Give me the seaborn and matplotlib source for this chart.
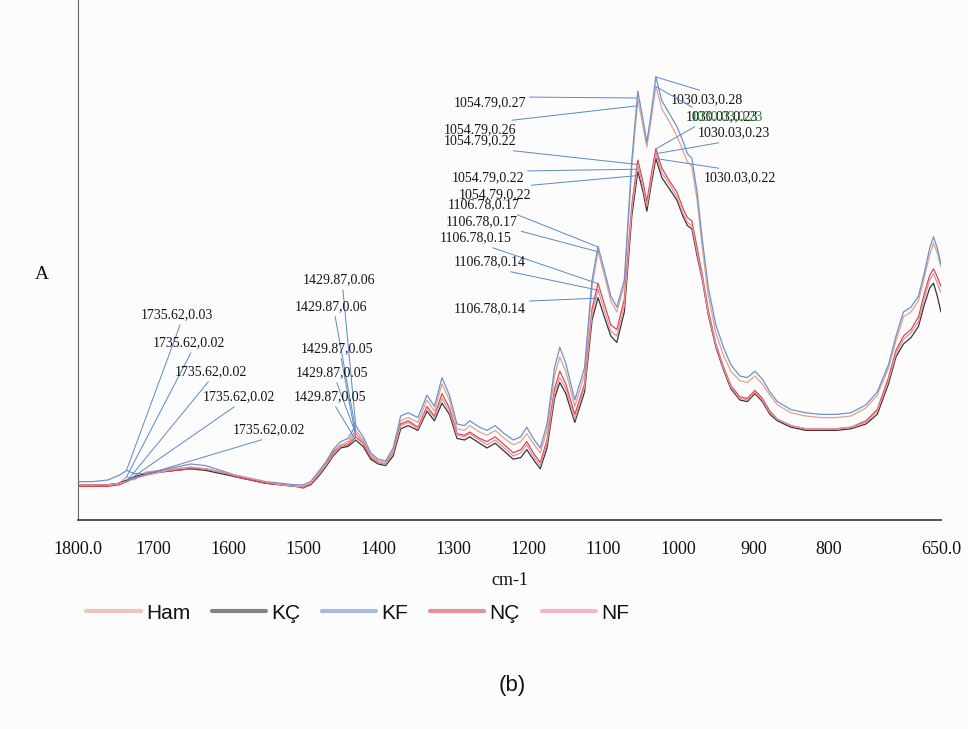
import numpy as np
import pandas as pd
import matplotlib
matplotlib.use("Agg")
import matplotlib.pyplot as plt
import seaborn as sns

# ---------------- data ----------------
wavenumber = [1800, 1780, 1760, 1745, 1735, 1725, 1710, 1690, 1670, 1650, 1630, 1610, 1590, 1570,
              1550, 1530, 1510, 1500, 1490, 1480, 1470, 1460, 1450, 1440, 1430, 1420, 1410, 1400,
              1390, 1380, 1370, 1360, 1347, 1335, 1325, 1315, 1305, 1295, 1285, 1278, 1265, 1255,
              1244, 1232, 1220, 1210, 1202, 1192, 1184, 1175, 1165, 1158, 1150, 1138, 1125, 1115,
              1107, 1098, 1090, 1082, 1072, 1062, 1054, 1047, 1042, 1036, 1030, 1022, 1012, 1002,
              994, 988, 982, 975, 968, 960, 950, 940, 930, 918, 908, 898, 888, 878, 868, 850, 830,
              810, 790, 770, 750, 735, 720, 710, 700, 690, 680, 672, 665, 660, 655, 650]

kf = [0.024, 0.024, 0.025, 0.028, 0.031, 0.029, 0.029, 0.031, 0.033, 0.035, 0.034, 0.031, 0.028, 0.026,
      0.024, 0.023, 0.022, 0.022, 0.024, 0.030, 0.036, 0.044, 0.049, 0.051, 0.059, 0.052, 0.042, 0.038,
      0.037, 0.045, 0.065, 0.067, 0.064, 0.078, 0.071, 0.089, 0.078, 0.060, 0.059, 0.062, 0.058, 0.056,
      0.059, 0.054, 0.050, 0.052, 0.058, 0.050, 0.045, 0.060, 0.095, 0.108, 0.098, 0.075, 0.095, 0.150,
      0.171, 0.155, 0.140, 0.133, 0.150, 0.225, 0.268, 0.250, 0.236, 0.255, 0.277, 0.262, 0.254, 0.246,
      0.237, 0.229, 0.226, 0.205, 0.175, 0.145, 0.122, 0.108, 0.097, 0.090, 0.089, 0.093, 0.088, 0.080,
      0.074, 0.069, 0.067, 0.066, 0.066, 0.067, 0.072, 0.080, 0.097, 0.115, 0.130, 0.133, 0.140, 0.155,
      0.170, 0.177, 0.170, 0.160]

ham = [0.021, 0.021, 0.022, 0.023, 0.027, 0.025, 0.030, 0.031, 0.032, 0.033, 0.032, 0.030, 0.027, 0.025,
       0.023, 0.022, 0.021, 0.020, 0.023, 0.029, 0.035, 0.043, 0.047, 0.049, 0.056, 0.050, 0.041, 0.037,
       0.036, 0.043, 0.062, 0.064, 0.061, 0.075, 0.068, 0.085, 0.075, 0.057, 0.056, 0.059, 0.055, 0.053,
       0.056, 0.051, 0.047, 0.049, 0.054, 0.047, 0.042, 0.056, 0.090, 0.102, 0.093, 0.071, 0.091, 0.146,
       0.168, 0.152, 0.137, 0.130, 0.147, 0.221, 0.263, 0.246, 0.233, 0.251, 0.271, 0.257, 0.249, 0.240,
       0.231, 0.224, 0.221, 0.200, 0.170, 0.140, 0.117, 0.103, 0.093, 0.087, 0.086, 0.090, 0.085, 0.078,
       0.072, 0.067, 0.065, 0.064, 0.064, 0.065, 0.070, 0.078, 0.095, 0.112, 0.127, 0.130, 0.137, 0.152,
       0.166, 0.173, 0.167, 0.158]

nc = [0.021, 0.021, 0.021, 0.022, 0.024, 0.026, 0.028, 0.030, 0.031, 0.032, 0.032, 0.030, 0.027, 0.025,
      0.023, 0.022, 0.021, 0.020, 0.022, 0.028, 0.034, 0.042, 0.046, 0.047, 0.052, 0.048, 0.039, 0.036,
      0.035, 0.042, 0.060, 0.062, 0.058, 0.071, 0.065, 0.079, 0.070, 0.054, 0.053, 0.055, 0.051, 0.049,
      0.052, 0.047, 0.042, 0.044, 0.049, 0.041, 0.036, 0.050, 0.082, 0.093, 0.085, 0.066, 0.085, 0.132,
      0.148, 0.134, 0.122, 0.119, 0.138, 0.197, 0.225, 0.211, 0.199, 0.216, 0.232, 0.220, 0.212, 0.205,
      0.195, 0.189, 0.187, 0.170, 0.153, 0.131, 0.110, 0.096, 0.084, 0.077, 0.076, 0.081, 0.076, 0.068,
      0.063, 0.059, 0.057, 0.057, 0.057, 0.058, 0.062, 0.069, 0.089, 0.106, 0.115, 0.119, 0.127, 0.142,
      0.153, 0.157, 0.152, 0.146]

nf = [0.022, 0.022, 0.022, 0.023, 0.024, 0.026, 0.028, 0.030, 0.032, 0.033, 0.032, 0.030, 0.028, 0.026,
      0.024, 0.022, 0.021, 0.021, 0.023, 0.028, 0.034, 0.041, 0.046, 0.048, 0.054, 0.049, 0.040, 0.036,
      0.035, 0.042, 0.059, 0.061, 0.057, 0.070, 0.064, 0.076, 0.068, 0.053, 0.052, 0.054, 0.050, 0.047,
      0.050, 0.045, 0.040, 0.042, 0.047, 0.039, 0.034, 0.048, 0.079, 0.089, 0.082, 0.063, 0.083, 0.129,
      0.144, 0.130, 0.118, 0.115, 0.134, 0.194, 0.222, 0.208, 0.196, 0.213, 0.229, 0.217, 0.210, 0.202,
      0.192, 0.186, 0.184, 0.167, 0.151, 0.129, 0.109, 0.095, 0.083, 0.076, 0.075, 0.080, 0.075, 0.067,
      0.063, 0.059, 0.057, 0.057, 0.057, 0.058, 0.061, 0.068, 0.087, 0.104, 0.113, 0.117, 0.124, 0.139,
      0.150, 0.154, 0.148, 0.142]

kc = [0.022, 0.022, 0.022, 0.023, 0.025, 0.027, 0.029, 0.030, 0.031, 0.032, 0.031, 0.029, 0.027, 0.025,
      0.023, 0.022, 0.021, 0.021, 0.022, 0.027, 0.033, 0.040, 0.045, 0.046, 0.050, 0.046, 0.038, 0.035,
      0.034, 0.040, 0.057, 0.059, 0.056, 0.068, 0.062, 0.073, 0.066, 0.051, 0.050, 0.052, 0.048, 0.045,
      0.048, 0.043, 0.038, 0.039, 0.044, 0.037, 0.032, 0.045, 0.076, 0.086, 0.079, 0.061, 0.080, 0.125,
      0.139, 0.126, 0.115, 0.111, 0.130, 0.190, 0.218, 0.205, 0.193, 0.210, 0.226, 0.214, 0.207, 0.200,
      0.190, 0.184, 0.182, 0.165, 0.150, 0.128, 0.108, 0.094, 0.082, 0.075, 0.074, 0.079, 0.074, 0.066,
      0.062, 0.058, 0.056, 0.056, 0.056, 0.057, 0.060, 0.066, 0.085, 0.102, 0.110, 0.114, 0.121, 0.135,
      0.145, 0.148, 0.140, 0.130]

series_names = ["Ham", "KÇ", "KF", "NÇ", "NF"]
series_values = {"Ham": ham, "KÇ": kc, "KF": kf, "NÇ": nc, "NF": nf}

xtick_values = [1800, 1700, 1600, 1500, 1400, 1300, 1200, 1100, 1000, 900, 800, 700, 650]
xtick_labels = ["1800.0", "1700", "1600", "1500", "1400", "1300", "1200", "1100", "1000",
                "900", "800", "", "650.0"]
ytick_values = [0.05, 0.10, 0.15, 0.20, 0.25, 0.30]

# peak labels: (text, series, wavenumber)
peak_labels = [
    ("1735.62,0.03", "KF", 1735.62), ("1735.62,0.02", "Ham", 1735.62), ("1735.62,0.02", "NÇ", 1735.62),
    ("1735.62,0.02", "NF", 1735.62), ("1735.62,0.02", "KÇ", 1735.62),
    ("1429.87,0.06", "KF", 1429.87), ("1429.87,0.06", "Ham", 1429.87), ("1429.87,0.05", "NÇ", 1429.87),
    ("1429.87,0.05", "NF", 1429.87), ("1429.87,0.05", "KÇ", 1429.87),
    ("1106.78,0.17", "KF", 1106.78), ("1106.78,0.17", "Ham", 1106.78), ("1106.78,0.15", "NÇ", 1106.78),
    ("1106.78,0.14", "NF", 1106.78), ("1106.78,0.14", "KÇ", 1106.78),
    ("1054.79,0.27", "KF", 1054.79), ("1054.79,0.26", "Ham", 1054.79), ("1054.79,0.22", "NÇ", 1054.79),
    ("1054.79,0.22", "NF", 1054.79), ("1054.79,0.22", "KÇ", 1054.79),
    ("1030.03,0.28", "KF", 1030.03), ("1030.03,0.23", "NÇ", 1030.03), ("1030.03,0.23", "Ham", 1030.03),
    ("1030.03,0.23", "NF", 1030.03), ("1030.03,0.22", "KÇ", 1030.03),
]
# layout of the label texts (figure pixels from top-left) and leader start (relative pos on text)
label_layout = [
    (177, 315, 0.56, 0), (189, 343, 0.55, 0), (211, 372, 0.5, 0), (239, 397, 0.5, 0), (269, 430, 0.55, 0),
    (339, 280, 0.55, 0), (331, 307, 0.55, 0), (337, 349, 0.55, 0), (332, 373, 0.55, 0), (330, 397, 0.55, 0),
    (484, 205, 0.85, 0), (482, 222, 0.9, 0), (476, 238, 0.6, 0), (490, 262, 0.57, 0), (490, 309, 0.57, 1),
    (490, 103, 0.07, 1), (480, 130, 0.55, 1), (480, 141, 0.55, 0), (488, 178, 0.5, 1), (495, 195, 0.5, 1),
    (707, 100, 0.55, 1), (722, 117, 0.2, 0), (727, 117, 0.1, 1), (734, 133, 0.55, 0), (740, 178, 0.5, 1),
]

# ---------------- styling ----------------
sns.set_style("white")
plt.rcParams["font.family"] = ["Liberation Serif", "DejaVu Serif"]

palette = {"Ham": "#e3a08e", "KÇ": "#353535", "KF": "#6d92cc", "NÇ": "#d24c52", "NF": "#e88f9c"}
leader_color = "#5d88c6"

W, H = 968, 729
fig = plt.figure(figsize=(W / 100, H / 100), dpi=100, facecolor="#fcfcfd")
ax = fig.add_axes([78 / W, 1 - 520 / H, (941 - 78) / W, 520 / H])
ax.set_facecolor("#fcfcfd")

df = pd.concat(
    [pd.DataFrame({"wn": wavenumber, "A": series_values[s], "sample": s}) for s in series_names],
    ignore_index=True,
)
sns.lineplot(data=df, x="wn", y="A", hue="sample", hue_order=series_names, palette=palette,
             estimator=None, linewidth=0.9, ax=ax)

ax.set_xlim(1800, 650)
ax.set_ylim(0, 0.325)
ax.set_xticks(xtick_values)
ax.set_xticklabels(xtick_labels, fontsize=13)
ax.set_yticks(ytick_values)
ax.set_yticklabels([])
ax.tick_params(axis="x", direction="out", length=7, width=0.8, pad=8, colors="#333333")
ax.tick_params(axis="y", direction="out", length=5, width=0.8, colors="#444444")
ax.tick_params(axis="x", labelcolor="#111111")
for side in ("top", "right"):
    ax.spines[side].set_visible(False)
ax.spines["left"].set_color("#666666")
ax.spines["left"].set_linewidth(0.8)
ax.spines["bottom"].set_color("#444444")
ax.spines["bottom"].set_linewidth(1.3)

ax.set_xlabel("cm-1", fontsize=13, labelpad=10, color="#111111")
ax.set_ylabel("A", fontsize=14, rotation=0, color="#111111")
ax.yaxis.set_label_coords(-0.042, 0.456)

# peak annotations
wn_asc = np.array(wavenumber[::-1], dtype=float)
for (txt, s, wn), (px, py, rx, ry) in zip(peak_labels, label_layout):
    yv = float(np.interp(wn, wn_asc, np.array(series_values[s][::-1], dtype=float)))
    green = (wn == 1030.03 and s == "Ham")
    ax.annotate(txt, xy=(wn, yv), xytext=(px, H - py), textcoords="figure pixels",
                ha="center", va="center", fontsize=10,
                color="#2f7d3a" if green else "#151515",
                arrowprops=dict(arrowstyle="-", color=leader_color, lw=0.7,
                                shrinkA=0, shrinkB=0, relpos=(rx, ry)),
                zorder=5)

# legend
sns.move_legend(ax, "center left", bbox_to_anchor=(-0.012, -0.179), ncol=5, frameon=False,
                title=None, handlelength=2.6, handletextpad=0.25, columnspacing=1.05,
                prop={"family": "Liberation Sans", "size": 15})
leg = ax.get_legend()
for ln in leg.get_lines():
    ln.set_linewidth(3.0)
    ln.set_alpha(0.6)
for t in leg.get_texts():
    t.set_color("#111111")

fig.text(512 / W, 1 - 686 / H, "(b)", ha="center", va="center", fontsize=16,
         family=["Liberation Sans", "DejaVu Sans"], color="#111111")

fig.savefig("out.png", dpi=100, facecolor=fig.get_facecolor())
